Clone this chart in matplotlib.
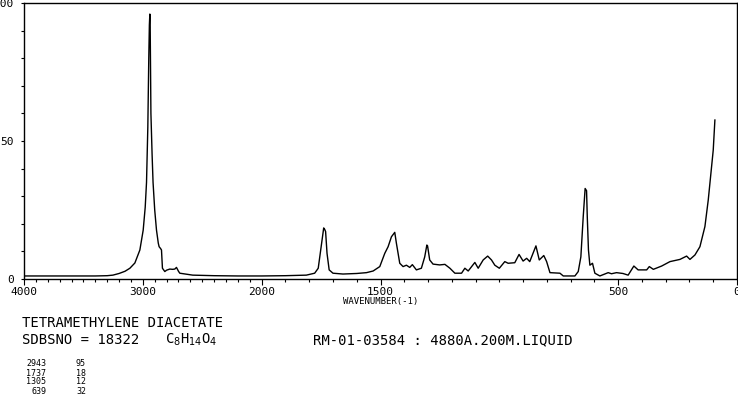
import numpy as np
import matplotlib
matplotlib.use("Agg")
import matplotlib.pyplot as plt
from matplotlib.ticker import FixedLocator, MultipleLocator

# spectrum (wavenumber cm-1, relative intensity)
wavenumber = [4000, 3700, 3400, 3300, 3252, 3200, 3150, 3109, 3067, 3025, 2997, 2980,
              2969, 2958, 2950, 2945, 2941, 2938, 2932, 2922, 2914, 2900, 2885, 2870,
              2863, 2850, 2843, 2838, 2835, 2815, 2800, 2773, 2750, 2731, 2717, 2700,
              2689, 2640, 2580, 2400, 2200, 2000, 1900, 1812, 1777, 1762, 1748, 1739,
              1735, 1731, 1725, 1716, 1700, 1658, 1600, 1559, 1531, 1503, 1482, 1468,
              1454, 1440, 1433, 1419, 1405, 1391, 1377, 1366, 1349, 1328, 1314, 1305,
              1302, 1293, 1279, 1251, 1229, 1208, 1187, 1159, 1145, 1131, 1103, 1089,
              1068, 1049, 1033, 1019, 1000, 977, 963, 935, 917, 900, 885, 872, 846,
              832, 813, 801, 787, 745, 731, 682, 668, 657, 647, 641, 639, 633, 630,
              625, 619, 608, 598, 577, 542, 528, 507, 480, 458, 434, 416, 380, 369,
              352, 317, 282, 240, 212, 198, 177, 156, 135, 121, 107, 100, 93]
intensity = [1.1, 1.1, 1.1, 1.2, 1.4, 2.0, 2.8, 3.9, 5.8, 10.5, 17.7, 26,
             35, 55, 80, 92, 96, 91, 60, 45, 35, 25, 17.7, 13,
             11.7, 11, 10.5, 6, 3.9, 2.7, 3.2, 3.6, 3.5, 3.6, 4.2, 2.8,
             2.1, 1.8, 1.4, 1.2, 1.1, 1.1, 1.2, 1.4, 2.1, 3.9, 12.9, 18.5,
             18, 17.2, 9.3, 3.3, 2.1, 1.8, 2.0, 2.3, 2.9, 4.5, 9.3, 11.7,
             15.3, 16.9, 12.9, 5.7, 4.5, 5.0, 4.2, 5.2, 3.3, 3.9, 8, 12.3,
             12.0, 6.9, 5.4, 5.1, 5.3, 3.9, 2.1, 2.1, 3.9, 2.9, 6.0, 3.9,
             6.9, 8.3, 6.9, 5.0, 3.9, 6.3, 5.7, 5.9, 8.9, 6.5, 7.5, 6.3, 12,
             6.9, 8.5, 6.3, 2.3, 2.1, 1.1, 1.1, 2.7, 8, 22.6, 30, 32.8, 32, 22.6,
             10.5, 5, 5.7, 2.1, 1.1, 2.3, 1.9, 2.3, 2.0, 1.4, 4.7, 3.3, 3.3, 4.5,
             3.5, 4.7, 6.3, 7.1, 8.3, 7.1, 8.7, 11.7, 19, 28.6, 40.7, 46.7, 57.6]

x_labels = [4000, 3000, 2000, 1500, 500, 0]
y_labels = [0, 50, 100]

peak_wn = [2943, 1737, 1305, 639]
peak_int = [95, 18, 12, 32]

title = "TETRAMETHYLENE DIACETATE"
sdbs_no = "SDBSNO = 18322"
formula = r"C$_8$H$_{14}$O$_4$"
sample = "RM-01-03584 : 4880A.200M.LIQUID"


# above 2000 cm-1 the scale is compressed by half
def fwd(w):
    w = np.asarray(w, dtype=float)
    return np.where(w > 2000, 2000 + (w - 2000) * 0.5, w)


def inv(u):
    u = np.asarray(u, dtype=float)
    return np.where(u > 2000, 2000 + (u - 2000) * 2.0, u)


mono = "DejaVu Sans Mono"
fig = plt.figure(figsize=(7.38, 3.98), dpi=100, facecolor="white")
ax = fig.add_axes([24 / 738, 119 / 398, 713 / 738, 276 / 398])
ax.set_xscale("function", functions=(fwd, inv))
ax.plot(wavenumber, intensity, color="black", lw=1.0)
ax.set_xlim(4000, 0)
ax.set_ylim(0, 100)

ax.xaxis.set_major_locator(FixedLocator(x_labels))
ax.xaxis.set_minor_locator(MultipleLocator(100))
ax.set_xticklabels([str(v) for v in x_labels])
ax.yaxis.set_major_locator(FixedLocator(y_labels))
ax.yaxis.set_minor_locator(MultipleLocator(10))
ax.tick_params(axis="both", which="major", direction="out", length=4, width=0.8,
               labelsize=8, pad=2)
ax.tick_params(axis="both", which="minor", direction="out", length=2.5, width=0.8)
ax.tick_params(axis="y", which="major", length=2.5, pad=5)
for lab in ax.get_xticklabels() + ax.get_yticklabels():
    lab.set_family(mono)
for s in ax.spines.values():
    s.set_linewidth(1.0)

ax.set_xlabel("WAVENUMBER(-1)", fontsize=6.5, family=mono, labelpad=0)

fig.text(22 / 738, 1 - 323 / 398, title, fontsize=10, family=mono, va="center")
fig.text(22 / 738, 1 - 340 / 398, sdbs_no, fontsize=10, family=mono, va="center")
fig.text(165 / 738, 1 - 340 / 398, formula, fontsize=10, family=mono, va="center")
fig.text(313 / 738, 1 - 340 / 398, sample, fontsize=10, family=mono, va="center")

for i, (w, v) in enumerate(zip(peak_wn, peak_int)):
    yy = 1 - (364 + 9 * i) / 398
    fig.text(46 / 738, yy, str(w), fontsize=6, family=mono, va="center", ha="right")
    fig.text(86 / 738, yy, str(v), fontsize=6, family=mono, va="center", ha="right")

fig.savefig("out.png", dpi=100, facecolor="white")
